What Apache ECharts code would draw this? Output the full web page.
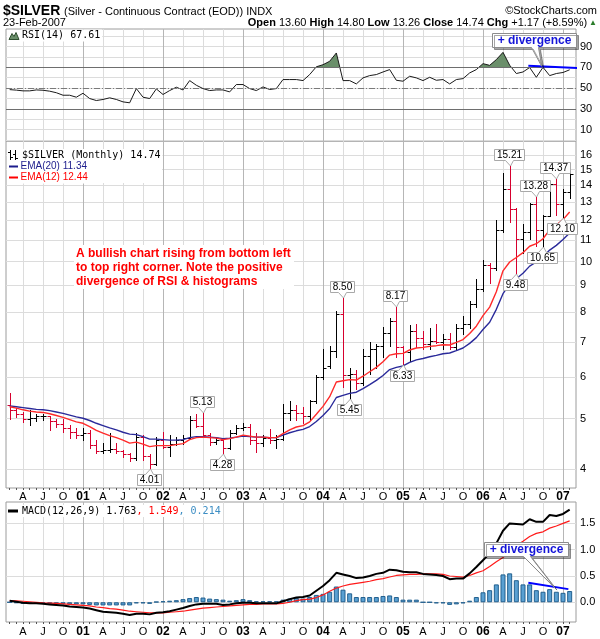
<!DOCTYPE html>
<html>
<head>
<meta charset="utf-8">
<title>$SILVER monthly</title>
<script src="https://cdn.jsdelivr.net/npm/echarts@6.0.0/dist/echarts.min.js"></script>
<style>
  html, body { margin: 0; padding: 0; background: #fff; }
  #chart { width: 600px; height: 639px; }
</style>
</head>
<body>
<div id="chart"></div>
<script>
// ---------- data: monthly bars, month index 0 = Jan 2000, first bar = Feb 2000 ----------
const firstMonth = 1;
const priorClose = 5.30; // Jan 2000 close, used to colour the first bar

const barOpen = [
  5.30, 5.20, 5.10, 5.00, 5.02, 5.05, 5.05, 4.95, 4.88, 4.80,
  4.72, 4.66, 4.70, 4.45, 4.33, 4.36, 4.38, 4.33, 4.27, 4.20,
  4.62, 4.25, 4.10, 4.55, 4.42, 4.47, 4.55, 4.60, 4.98, 4.85,
  4.65, 4.52, 4.55, 4.40, 4.70, 4.80, 4.82, 4.55, 4.50, 4.60,
  4.55, 4.58, 5.13, 5.20, 5.12, 5.05, 5.40, 6.00, 6.30, 6.75,
  7.95, 6.05, 6.10, 5.85, 6.60, 6.80, 6.90, 7.30, 7.70, 6.85,
  6.70, 7.35, 7.15, 6.95, 7.05, 7.02, 7.10, 6.85, 7.45, 7.60,
  8.30, 8.85, 9.85, 9.70, 11.50, 13.75, 12.60, 11.05, 11.40, 12.90,
  11.50, 12.25, 14.10, 12.90, 13.60
];
const barHigh = [
  5.59, 5.25, 5.15, 5.20, 5.10, 5.10, 5.06, 5.00, 5.00, 4.86,
  4.79, 4.80, 4.76, 4.55, 4.49, 4.69, 4.49, 4.35, 4.30, 4.69,
  4.65, 4.28, 4.62, 4.72, 4.65, 4.62, 4.66, 5.07, 5.10, 5.13,
  4.69, 4.60, 4.57, 4.76, 4.86, 4.90, 4.88, 4.69, 4.65, 4.78,
  4.65, 5.34, 5.40, 5.30, 5.27, 5.42, 6.05, 6.80, 6.90, 8.05,
  8.50, 6.25, 6.20, 6.80, 7.00, 6.95, 7.50, 7.80, 8.17, 6.90,
  7.55, 7.60, 7.35, 7.45, 7.60, 7.25, 7.30, 7.60, 7.85, 8.40,
  9.25, 10.05, 9.95, 12.00, 14.75, 15.21, 12.65, 11.80, 12.95, 13.28,
  12.30, 14.25, 14.37, 13.75, 14.80
];
const barLow = [
  5.00, 5.04, 4.93, 4.87, 4.95, 4.98, 4.76, 4.83, 4.72, 4.60,
  4.60, 4.55, 4.39, 4.29, 4.29, 4.31, 4.29, 4.23, 4.14, 4.17,
  4.17, 4.01, 4.08, 4.40, 4.25, 4.45, 4.48, 4.58, 4.83, 4.62,
  4.45, 4.47, 4.28, 4.38, 4.68, 4.76, 4.47, 4.31, 4.43, 4.50,
  4.40, 4.55, 4.97, 4.98, 4.90, 4.98, 5.35, 5.95, 6.25, 6.55,
  5.75, 5.45, 5.70, 5.80, 6.10, 6.25, 6.55, 6.90, 6.55, 6.33,
  6.45, 6.85, 6.80, 6.80, 6.97, 6.80, 6.80, 6.80, 7.25, 7.45,
  8.20, 8.80, 9.10, 9.65, 11.40, 11.90, 9.48, 10.40, 11.05, 10.70,
  10.65, 12.20, 12.30, 12.10, 13.26
];
const barClose = [
  5.20, 5.10, 5.00, 5.02, 5.05, 5.06, 4.95, 4.88, 4.80, 4.72,
  4.66, 4.70, 4.45, 4.33, 4.36, 4.38, 4.33, 4.27, 4.20, 4.62,
  4.25, 4.10, 4.55, 4.42, 4.47, 4.55, 4.60, 4.98, 4.85, 4.65,
  4.52, 4.55, 4.40, 4.70, 4.80, 4.82, 4.55, 4.50, 4.60, 4.55,
  4.58, 5.13, 5.20, 5.12, 5.05, 5.40, 6.00, 6.25, 6.75, 7.95,
  6.05, 6.10, 5.85, 6.60, 6.80, 6.90, 7.30, 7.70, 6.85, 6.70,
  7.35, 7.15, 6.95, 7.05, 7.02, 7.10, 6.85, 7.45, 7.60, 8.30,
  8.85, 9.85, 9.70, 11.50, 13.75, 12.60, 11.05, 11.40, 12.90, 11.50,
  12.25, 14.10, 12.90, 13.57, 14.74
];

// moving averages
const ema20 = [
  5.29, 5.27, 5.25, 5.23, 5.21, 5.20, 5.18, 5.15, 5.12, 5.08,
  5.04, 5.01, 4.96, 4.90, 4.85, 4.80, 4.76, 4.71, 4.67, 4.66,
  4.62, 4.57, 4.57, 4.56, 4.55, 4.55, 4.56, 4.60, 4.62, 4.62,
  4.61, 4.60, 4.58, 4.59, 4.61, 4.63, 4.62, 4.61, 4.61, 4.60,
  4.60, 4.65, 4.70, 4.74, 4.77, 4.83, 4.94, 5.07, 5.23, 5.49,
  5.54, 5.59, 5.62, 5.71, 5.81, 5.92, 6.05, 6.21, 6.27, 6.31,
  6.41, 6.48, 6.52, 6.57, 6.61, 6.66, 6.68, 6.75, 6.83, 6.97,
  7.15, 7.41, 7.65, 8.10, 8.68, 9.05, 9.27, 9.50, 9.80, 9.98,
  10.20, 10.52, 10.74, 11.02, 11.34
];
const ema12 = [
  5.27, 5.24, 5.20, 5.17, 5.15, 5.14, 5.11, 5.07, 5.03, 4.98,
  4.93, 4.90, 4.83, 4.75, 4.69, 4.64, 4.60, 4.55, 4.49, 4.51,
  4.47, 4.42, 4.44, 4.44, 4.44, 4.46, 4.48, 4.56, 4.60, 4.61,
  4.60, 4.59, 4.56, 4.58, 4.61, 4.65, 4.63, 4.61, 4.61, 4.60,
  4.60, 4.68, 4.76, 4.82, 4.85, 4.93, 5.10, 5.28, 5.51, 5.88,
  5.91, 5.94, 5.93, 6.03, 6.15, 6.27, 6.43, 6.62, 6.66, 6.67,
  6.77, 6.83, 6.85, 6.88, 6.90, 6.93, 6.92, 7.00, 7.09, 7.28,
  7.52, 7.88, 8.18, 8.75, 9.60, 9.98, 10.18, 10.40, 10.70, 10.82,
  11.06, 11.50, 11.75, 12.03, 12.44
];

// RSI(14)
const rsi14 = [
  48.5, 48.0, 47.3, 47.3, 48.2, 47.9, 47.0, 45.5, 43.1, 43.1,
  41.2, 45.0, 39.9, 38.0, 39.0, 40.6, 39.0, 36.7, 35.8, 49.5,
  41.2, 39.9, 49.2, 43.8, 47.6, 50.8, 48.2, 57.2, 52.7, 49.5,
  47.6, 48.2, 48.2, 46.3, 53.4, 53.4, 49.5, 47.6, 51.1, 48.6,
  49.5, 58.2, 58.2, 58.2, 57.2, 63.0, 70.5, 72.5, 75.8, 83.8,
  57.2, 57.2, 54.0, 59.8, 62.0, 63.0, 65.5, 67.8, 57.5, 56.6,
  61.4, 59.8, 57.2, 60.4, 57.5, 58.2, 54.0, 58.2, 59.1, 64.6,
  67.8, 73.5, 71.9, 77.4, 84.4, 72.0, 64.0, 65.5, 69.8, 60.4,
  70.0, 62.0, 64.0, 65.0, 67.61
];

// MACD(12,26,9)
const macdLine = [
  0.03, 0.01, -0.01, -0.02, -0.02, -0.03, -0.04, -0.05, -0.06, -0.08,
  -0.09, -0.10, -0.12, -0.15, -0.18, -0.19, -0.20, -0.22, -0.24, -0.22,
  -0.22, -0.23, -0.20, -0.19, -0.17, -0.14, -0.11, -0.07, -0.04, -0.03,
  -0.03, -0.03, -0.05, -0.04, -0.02, -0.01, -0.01, -0.02, -0.02, -0.02,
  -0.02, 0.02, 0.06, 0.09, 0.10, 0.13, 0.22, 0.31, 0.42, 0.56,
  0.53, 0.50, 0.46, 0.47, 0.50, 0.54, 0.56, 0.62, 0.61, 0.58,
  0.57, 0.57, 0.54, 0.53, 0.52, 0.50, 0.44, 0.45, 0.45, 0.55,
  0.67, 0.80, 0.93, 1.12, 1.36, 1.50, 1.49, 1.48, 1.58, 1.53,
  1.53, 1.66, 1.64, 1.68, 1.763
];
const macdSignal = [
  0.03, 0.025, 0.02, 0.01, 0.00, -0.01, -0.015, -0.02, -0.03, -0.04,
  -0.05, -0.06, -0.07, -0.09, -0.10, -0.12, -0.13, -0.15, -0.17, -0.18,
  -0.19, -0.20, -0.20, -0.20, -0.19, -0.18, -0.17, -0.15, -0.13, -0.11,
  -0.10, -0.09, -0.08, -0.07, -0.06, -0.05, -0.04, -0.04, -0.03, -0.03,
  -0.03, -0.02, 0.00, 0.03, 0.05, 0.06, 0.09, 0.14, 0.21, 0.27,
  0.31, 0.34, 0.36, 0.38, 0.40, 0.43, 0.45, 0.48, 0.51, 0.52,
  0.53, 0.53, 0.54, 0.54, 0.54, 0.53, 0.50, 0.49, 0.48, 0.51,
  0.56, 0.60, 0.68, 0.77, 0.85, 0.97, 1.08, 1.16, 1.25, 1.31,
  1.34, 1.41, 1.45, 1.50, 1.549
];
const macdHist = [
  0.00, -0.015, -0.03, -0.03, -0.02, -0.02, -0.025, -0.03, -0.03, -0.04,
  -0.04, -0.04, -0.05, -0.06, -0.06, -0.06, -0.06, -0.06, -0.06, -0.02,
  -0.02, -0.03, 0.01, 0.02, 0.03, 0.04, 0.06, 0.08, 0.10, 0.09,
  0.07, 0.06, 0.05, 0.03, 0.04, 0.06, 0.04, 0.02, 0.02, 0.02,
  0.02, 0.05, 0.07, 0.08, 0.07, 0.10, 0.14, 0.16, 0.20, 0.30,
  0.24, 0.17, 0.10, 0.10, 0.10, 0.10, 0.12, 0.13, 0.10, 0.05,
  0.05, 0.05, 0.00, 0.00, -0.02, -0.02, -0.05, -0.04, -0.02, 0.03,
  0.10, 0.19, 0.23, 0.34, 0.53, 0.55, 0.42, 0.34, 0.34, 0.23,
  0.20, 0.25, 0.20, 0.18, 0.214
];

// tick marks and labels
const quarterMonths = [3, 6, 9, 12, 15, 18, 21, 24, 27, 30, 33, 36, 39, 42,
  45, 48, 51, 54, 57, 60, 63, 66, 69, 72, 75, 78, 81, 84];
const quarterLabels = ['A', 'J', 'O', '01', 'A', 'J', 'O', '02', 'A', 'J', 'O', '03', 'A', 'J',
  'O', '04', 'A', 'J', 'O', '05', 'A', 'J', 'O', '06', 'A', 'J', 'O', '07'];
const priceTicks = [4, 5, 6, 7, 8, 9, 10, 11, 12, 13, 14, 15, 16];
const rsiTicks = [10, 30, 50, 70, 90];
const rsiGridLevels = [0, 10, 20, 30, 40, 50, 60, 70, 80, 90, 100];
const macdTicks = [0, 0.5, 1.0, 1.5];

// annotated highs / lows: [month index, which end of the bar]
const calloutBars = [[22, 'low'], [30, 'high'], [33, 'low'], [51, 'high'], [52, 'low'],
  [59, 'high'], [60, 'low'], [76, 'high'], [77, 'low'], [80, 'high'], [81, 'low'],
  [83, 'high'], [84, 'low']];

// hand-drawn divergence trend lines and their notes
const rsiDivergence = [[78.8, 71.6], [86.5, 69.3]];
const macdDivergence = [[78.8, 0.37], [84.8, 0.25]];
const rsiNote = [79.7, 96.3, 80.8, 71.0];    // box centre (month, value), pointer tip
const macdNote = [78.5, 1.01, 82.8, 0.27];

const headerChange = '+1.17 (+8.59%)';
const headerDate = '23-Feb-2007';

// ---------- drawing ----------
const SANS = '"Liberation Sans", Arial, sans-serif';
const MONO = '"DejaVu Sans Mono", monospace';
const RED_BAR = '#d6002e';
const GRID_Q = '#dcdcdc';
const GRID_Y = '#b6b6b6';
const BORDER = '#9c9c9c';
const xMin = 0.45, xMax = 85.95;

const months = barClose.map((_, i) => firstMonth + i);
const monthTicks = months.slice();
const last = barClose.length - 1;

const measureCtx = document.createElement('canvas').getContext('2d');
function textWidth(t, font) { measureCtx.font = font; return measureCtx.measureText(t).width; }

function timeAxis(gridIndex, showLabels, margin) {
  return {
    type: 'value', gridIndex: gridIndex, position: 'bottom', min: xMin, max: xMax,
    axisLine: { show: false },
    axisTick: { show: false, customValues: quarterMonths },
    axisLabel: {
      show: showLabels, customValues: quarterMonths, margin: margin,
      color: '#000', fontSize: 11, fontFamily: SANS,
      formatter: function (v) {
        const i = quarterMonths.indexOf(Math.round(v));
        if (i < 0) return '';
        const s = quarterLabels[i];
        return /\d/.test(s) ? '{yr|' + s + '}' : s;
      },
      rich: { yr: { fontWeight: 'bold', fontSize: 12, fontFamily: SANS, color: '#000' } }
    },
    splitLine: { show: true, lineStyle: { color: [GRID_Q, GRID_Q, GRID_Q, GRID_Y], width: 1 } }
  };
}
function monthTickAxis(gridIndex) {
  return {
    type: 'value', gridIndex: gridIndex, position: 'bottom', offset: 0, min: xMin, max: xMax,
    axisLine: { show: false },
    axisTick: { show: true, customValues: monthTicks, length: 2, lineStyle: { color: '#555', width: 1 } },
    axisLabel: { show: false },
    splitLine: { show: false }
  };
}
const yLabel = { margin: 4, color: '#000', fontSize: 11, fontFamily: SANS };

function renderBar(params, api) {
  const m = api.value(0);
  const o = api.coord([m, api.value(1)]);
  const h = api.coord([m, api.value(2)]);
  const l = api.coord([m, api.value(3)]);
  const c = api.coord([m, api.value(4)]);
  const color = api.value(4) < api.value(5) ? RED_BAR : '#000';
  const x = Math.round(h[0]) + 0.5;
  const yo = Math.round(o[1]) + 0.5, yc = Math.round(c[1]) + 0.5;
  const st = { stroke: color, lineWidth: 1 };
  return {
    type: 'group', children: [
      { type: 'line', shape: { x1: x, y1: Math.round(h[1]), x2: x, y2: Math.round(l[1]) + 1 }, style: st },
      { type: 'line', shape: { x1: x - 3, y1: yo, x2: x, y2: yo }, style: st },
      { type: 'line', shape: { x1: x, y1: yc, x2: x + 3, y2: yc }, style: st }
    ]
  };
}

const NOTE_FONT = '10px ' + SANS;
function renderPriceNote(params, api) {
  const m = api.value(0), v = api.value(1), dir = api.value(2);
  const p = api.coord([m, v]);
  const text = v.toFixed(2);
  let w = Math.ceil(textWidth(text, NOTE_FONT)) + 4;
  if (w % 2) w += 1;
  const h = 11, tail = 5, half = 4;
  const cx = Math.round(p[0]) - 0.5;
  const tipY = Math.round(p[1]);
  let pts, ty;
  if (dir > 0) {
    const b = tipY - tail - 0.5, t = b - h;
    pts = [[cx - w / 2, t], [cx + w / 2, t], [cx + w / 2, b], [cx + half, b], [cx + 1, tipY],
      [cx - half, b], [cx - w / 2, b]];
    ty = (t + b) / 2;
  } else {
    const t = tipY + tail + 0.5, b = t + h;
    pts = [[cx - w / 2, t], [cx - half, t], [cx + 1, tipY], [cx + half, t], [cx + w / 2, t],
      [cx + w / 2, b], [cx - w / 2, b]];
    ty = (t + b) / 2;
  }
  return {
    type: 'group', children: [
      { type: 'polygon', shape: { points: pts }, style: { fill: '#fff', stroke: '#a9a9a9', lineWidth: 1 } },
      { type: 'text', style: { text: text, x: cx, y: ty + 0.5, font: NOTE_FONT, fill: '#000',
        align: 'center', verticalAlign: 'middle', textAlign: 'center', textVerticalAlign: 'middle' } }
    ]
  };
}

const DIV_FONT = 'bold 12px ' + SANS;
function renderDivNote(params, api) {
  const c = api.coord([api.value(0), api.value(1)]);
  const tip = api.coord([api.value(2), api.value(3)]);
  const text = '+ divergence';
  let w = Math.ceil(textWidth(text, DIV_FONT)) + 10;
  if (w % 2) w += 1;
  const h = 14;
  const cx = Math.round(c[0]) + 0.5, cy = Math.round(c[1]) + 0.5;
  const l = cx - w / 2, r = cx + w / 2, t = cy - h / 2, b = cy + h / 2;
  const pts = [[l, t], [r, t], [r, b], [cx + 4, b], [tip[0], tip[1]], [cx - 3, b], [l, b]];
  return {
    type: 'group', children: [
      { type: 'polygon', shape: { points: pts }, style: { fill: '#fff', stroke: '#8c8c8c', lineWidth: 1,
        shadowColor: 'rgba(0,0,0,0.35)', shadowOffsetX: 2, shadowOffsetY: 2, shadowBlur: 0 } },
      { type: 'text', style: { text: text, x: cx, y: cy + 0.5, font: DIV_FONT, fill: '#1414d8',
        align: 'center', verticalAlign: 'middle', textAlign: 'center', textVerticalAlign: 'middle' } }
    ]
  };
}

const ohlcData = months.map((m, i) => [m, barOpen[i], barHigh[i], barLow[i], barClose[i],
  i ? barClose[i - 1] : priorClose]);
const pair = arr => months.map((m, i) => [m, arr[i]]);
const noteData = calloutBars.map(([m, kind]) => {
  const i = m - firstMonth;
  return kind === 'high' ? [m, barHigh[i], 1] : [m, barLow[i], -1];
});

// text on a white patch so the grid does not run through it
function txt(x, y, text, font, fill, align, boxed) {
  const style = { text: text, font: font, fill: fill || '#000',
    align: align || 'left', textAlign: align || 'left',
    verticalAlign: 'middle', textVerticalAlign: 'middle' };
  if (boxed) { style.backgroundColor = '#fff'; style.padding = [1, 2, 1, 1]; }
  return { type: 'text', x: x, y: y, silent: true, z: 10, style: style };
}
function seg(x1, y1, x2, y2, color, width) {
  return { type: 'line', silent: true, z: 11, shape: { x1: x1, y1: y1, x2: x2, y2: y2 },
    style: { stroke: color, lineWidth: width } };
}
function patch(x, y, w, h) {
  return { type: 'rect', silent: true, z: 9, shape: { x: x, y: y, width: w, height: h },
    style: { fill: '#fff' } };
}

const lastOpen = barOpen[last].toFixed(2), lastHigh = barHigh[last].toFixed(2);
const lastLow = barLow[last].toFixed(2), lastClose = barClose[last].toFixed(2);

const headerStats = {
  type: 'text', x: 597, y: 22.5, silent: true,
  style: {
    text: '{b|Open} ' + lastOpen + ' {b|High} ' + lastHigh + ' {b|Low} ' + lastLow +
      ' {b|Close} ' + lastClose + ' {b|Chg} ' + headerChange + '{g|▲}',
    font: '11px ' + SANS, fill: '#000',
    align: 'right', textAlign: 'right', verticalAlign: 'middle', textVerticalAlign: 'middle',
    rich: {
      b: { fontWeight: 'bold', fontSize: 11, fontFamily: SANS, fill: '#000', color: '#000' },
      g: { fontSize: 8, fontFamily: SANS, fill: '#2b7d2b', color: '#2b7d2b', padding: [0, 0, 0, 2] }
    }
  }
};

const macdLegend = {
  type: 'text', x: 21, y: 511, silent: true, z: 10,
  style: {
    text: '{k|MACD(12,26,9) ' + macdLine[last].toFixed(3) + '}{r|, ' + macdSignal[last].toFixed(3) +
      '}{s|, ' + macdHist[last].toFixed(3) + '}',
    font: '10px ' + MONO, fill: '#000', backgroundColor: '#fff', padding: [1, 2, 1, 1],
    align: 'left', textAlign: 'left', verticalAlign: 'middle', textVerticalAlign: 'middle',
    rich: {
      k: { fontSize: 10, fontFamily: MONO, fill: '#000', color: '#000' },
      r: { fontSize: 10, fontFamily: MONO, fill: '#ff0000', color: '#ff0000' },
      s: { fontSize: 10, fontFamily: MONO, fill: '#3d8ec4', color: '#3d8ec4' }
    }
  }
};

const graphics = [
  txt(3, 11, '$SILVER', 'bold 14px ' + SANS),
  txt(64, 11.5, '(Silver - Continuous Contract (EOD)) INDX', '11px ' + SANS),
  txt(597, 11, '\u00A9StockCharts.com', '11px ' + SANS, '#000', 'right'),
  txt(3, 22.5, headerDate, '11px ' + SANS),
  headerStats,
  // RSI legend
  patch(7, 30, 94, 11),
  { type: 'polygon', silent: true, z: 11, shape: { points: [[9, 39.5], [12, 33.5], [14, 36.5], [16, 32.5], [19, 39.5]] },
    style: { fill: '#6a8f6a', stroke: '#2f4f2f', lineWidth: 1 } },
  txt(21, 35.5, 'RSI(14) ' + rsi14[last].toFixed(2), '10px ' + MONO, '#000', 'left', true),
  // price legend
  patch(7, 149, 155, 34),
  seg(10.5, 150, 10.5, 160, '#000', 1), seg(8, 152.5, 10.5, 152.5, '#000', 1), seg(10.5, 157.5, 13, 157.5, '#000', 1),
  seg(15.5, 150, 15.5, 160, '#000', 1), seg(13, 154.5, 15.5, 154.5, '#000', 1), seg(15.5, 158.5, 18, 158.5, '#000', 1),
  txt(21, 155.5, '$SILVER (Monthly) ' + barClose[last].toFixed(2), '10px ' + MONO, '#000', 'left', true),
  seg(9, 166.5, 18, 166.5, '#1c1c8c', 2),
  txt(19.5, 166.5, 'EMA(20) ' + ema20[last].toFixed(2), '10px ' + SANS, '#1c1c8c', 'left', true),
  seg(9, 177.5, 18, 177.5, '#ff0000', 2),
  txt(19.5, 177.5, 'EMA(12) ' + ema12[last].toFixed(2), '10px ' + SANS, '#ff0000', 'left', true),
  // commentary
  patch(74, 245, 220, 44),
  txt(76, 253.5, 'A bullish chart rising from bottom left', 'bold 12px ' + SANS, '#ff0000'),
  txt(76, 267.5, 'to top right corner. Note the positive', 'bold 12px ' + SANS, '#ff0000'),
  txt(76, 281.5, 'divergence of RSI & histograms', 'bold 12px ' + SANS, '#ff0000'),
  // MACD legend
  seg(8, 511, 18, 511, '#000', 3),
  macdLegend
];

const gridBase = { left: 6, right: 24, show: true, borderColor: BORDER, borderWidth: 1,
  backgroundColor: 'transparent', containLabel: false, outerBoundsMode: 'none' };

const option = {
  animation: false,
  backgroundColor: '#fff',
  textStyle: { fontFamily: SANS },
  grid: [
    Object.assign({ top: 29, height: 112 }, gridBase),
    Object.assign({ top: 141, height: 347 }, gridBase),
    Object.assign({ top: 502, height: 120 }, gridBase)
  ],
  xAxis: [timeAxis(0, false, 2), timeAxis(1, true, 3), timeAxis(2, true, 4), monthTickAxis(1), monthTickAxis(2)],
  yAxis: [
    { type: 'value', gridIndex: 0, position: 'right', min: -1, max: 106.9,
      axisLine: { show: false }, axisTick: { show: false, customValues: rsiGridLevels },
      axisLabel: Object.assign({ customValues: rsiTicks }, yLabel),
      splitLine: { show: true, lineStyle: { color: GRID_Q } } },
    { type: 'log', logBase: 10, gridIndex: 1, position: 'right', min: 3.683, max: 17.02,
      axisLine: { show: false }, axisTick: { show: false, customValues: priceTicks },
      axisLabel: Object.assign({ customValues: priceTicks, formatter: v => String(Math.round(v)) }, yLabel),
      splitLine: { show: true, lineStyle: { color: GRID_Q } }, minorTick: { show: false } },
    { type: 'value', gridIndex: 2, position: 'right', min: -0.375, max: 1.907,
      axisLine: { show: false }, axisTick: { show: false, customValues: macdTicks },
      axisLabel: Object.assign({ customValues: macdTicks, formatter: v => v.toFixed(1) }, yLabel),
      splitLine: { show: true, lineStyle: { color: GRID_Q } } }
  ],
  visualMap: [{
    type: 'piecewise', show: false, seriesIndex: 0, dimension: 1,
    pieces: [
      { gt: 70, lte: 200, color: '#6a8f6a' },
      { gte: -50, lte: 70, color: 'rgba(106,143,106,0)' }
    ],
    outOfRange: { color: 'rgba(106,143,106,0)' }
  }],
  series: [
    { // 0: shading where RSI is above 70
      type: 'line', xAxisIndex: 0, yAxisIndex: 0, data: pair(rsi14), showSymbol: false, silent: true,
      lineStyle: { width: 0, opacity: 0 }, areaStyle: { origin: 'start', opacity: 1 }, z: 2
    },
    { // 1: RSI line with reference levels
      type: 'line', xAxisIndex: 0, yAxisIndex: 0, data: pair(rsi14), showSymbol: false, silent: true,
      lineStyle: { color: '#1a1a1a', width: 1 }, z: 4,
      markLine: {
        silent: true, symbol: ['none', 'none'], label: { show: false }, animation: false,
        data: [
          { yAxis: 70, lineStyle: { color: '#6e6e6e', width: 1, type: 'solid' } },
          { yAxis: 30, lineStyle: { color: '#6e6e6e', width: 1, type: 'solid' } },
          { yAxis: 50, lineStyle: { color: '#7a7a7a', width: 1, type: [6, 2, 1, 2] } }
        ]
      }
    },
    { // 2: RSI divergence line
      type: 'line', xAxisIndex: 0, yAxisIndex: 0, data: rsiDivergence, showSymbol: false, silent: true,
      clip: false, lineStyle: { color: '#0000ff', width: 2 }, z: 5
    },
    { // 3: RSI divergence note
      type: 'custom', xAxisIndex: 0, yAxisIndex: 0, data: [rsiNote], renderItem: renderDivNote,
      clip: false, silent: true, z: 6, encode: { x: [0, 2], y: [1, 3] }
    },
    { // 4: price bars
      type: 'custom', xAxisIndex: 1, yAxisIndex: 1, data: ohlcData, renderItem: renderBar,
      silent: true, z: 3, encode: { x: 0, y: [1, 2, 3, 4] }
    },
    { // 5: EMA(20)
      type: 'line', xAxisIndex: 1, yAxisIndex: 1, data: pair(ema20), showSymbol: false, silent: true,
      lineStyle: { color: '#2a2a9a', width: 1.4 }, z: 4
    },
    { // 6: EMA(12)
      type: 'line', xAxisIndex: 1, yAxisIndex: 1, data: pair(ema12), showSymbol: false, silent: true,
      lineStyle: { color: '#ff2a2a', width: 1.4 }, z: 4
    },
    { // 7: high / low notes
      type: 'custom', xAxisIndex: 1, yAxisIndex: 1, data: noteData, renderItem: renderPriceNote,
      clip: false, silent: true, z: 6, encode: { x: 0, y: 1 }
    },
    { // 8: MACD histogram
      type: 'bar', xAxisIndex: 2, yAxisIndex: 2, data: pair(macdHist), barWidth: 5, silent: true,
      itemStyle: { color: '#5aa0d2', borderColor: '#22608f', borderWidth: 1 }, z: 2
    },
    { // 9: signal line
      type: 'line', xAxisIndex: 2, yAxisIndex: 2, data: pair(macdSignal), showSymbol: false, silent: true,
      lineStyle: { color: '#ff1a1a', width: 1.2 }, z: 3
    },
    { // 10: MACD line
      type: 'line', xAxisIndex: 2, yAxisIndex: 2, data: pair(macdLine), showSymbol: false, silent: true,
      lineStyle: { color: '#000', width: 2 }, z: 4
    },
    { // 11: histogram divergence line
      type: 'line', xAxisIndex: 2, yAxisIndex: 2, data: macdDivergence, showSymbol: false, silent: true,
      lineStyle: { color: '#0000ff', width: 2 }, z: 5
    },
    { // 12: histogram divergence note
      type: 'custom', xAxisIndex: 2, yAxisIndex: 2, data: [macdNote], renderItem: renderDivNote,
      clip: false, silent: true, z: 6, encode: { x: [0, 2], y: [1, 3] }
    }
  ],
  graphic: graphics
};

const chart = echarts.init(document.getElementById('chart'), null, { renderer: 'canvas' });
chart.setOption(option);
</script>
</body>
</html>
